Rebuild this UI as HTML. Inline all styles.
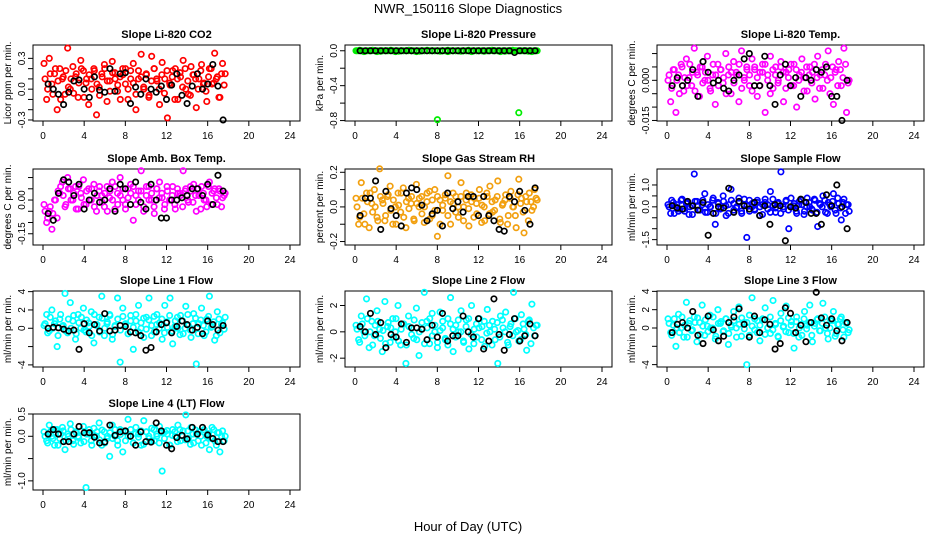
<!DOCTYPE html>
<html><head><meta charset="utf-8"><style>
html,body{margin:0;padding:0;background:#fff}
svg{display:block;font-family:"Liberation Sans",sans-serif}
</style></head><body>
<svg id="chart" width="936" height="540" viewBox="0 0 936 540">
<text x="468" y="13" text-anchor="middle" font-size="13">NWR_150116  Slope Diagnostics</text>
<text x="468" y="531" text-anchor="middle" font-size="13">Hour of Day (UTC)</text>
</svg>
<script>
// x tick labels
const xTicks = [0,4,8,12,16,20,24];
// colored series (spread samples 0.1h..17.7h), core samples (0.2h..17.6h), black samples (0.5h..17.5h)
const co2Values = [0.25,-0.1,0.3,0.05,0.15,-0.2,0.2,0.1,-0.05,0.4,0.0,0.22,0.12,-0.08,0.28,0.18,0.06,-0.15,0.1,0.2,-0.25,0.02,0.15,0.24,-0.12,0.08,0.27,0.16,-0.02,0.12,0.2,0.05,-0.1,0.18,0.25,-0.2,0.1,0.34,0.0,0.14,-0.06,0.32,0.2,0.08,-0.15,0.26,0.1,-0.28,0.04,0.18,0.2,-0.1,0.12,0.28,0.0,-0.05,0.22,0.14,-0.18,0.1,0.24,0.06,-0.12,0.2,0.05,0.35,0.12,-0.08,0.25,0.15];
const co2Core = [0.1,0.0,0.15,-0.05,0.2,0.08,-0.1,0.12,0.18,0.02,0.1,-0.04,0.15,0.06,0.2,-0.08,0.1,0.14,0.0,0.18,0.05,-0.06,0.12,0.2,0.08,-0.02,0.16,0.1,0.04,-0.1,0.14,0.2,0.0,0.1,0.06,-0.05,0.18,0.12,0.02,0.15,-0.08,0.08,0.2,0.1,0.0,0.14,-0.04,0.18,0.06,0.12,-0.1,0.1,0.16,0.02,0.2,0.08,-0.06,0.14,0.1,0.0,0.18,0.05,-0.02,0.12,0.2,0.06,0.1,-0.08,0.15,0.04];
const co2Black = [0.05,0.0,-0.05,-0.15,-0.03,0.08,0.09,0.0,-0.08,0.12,-0.01,-0.03,0.2,-0.02,0.15,0.16,-0.14,0.02,-0.05,0.1,0.0,-0.03,0.03,-0.1,0.04,0.15,-0.06,-0.14,0.03,0.15,0.0,0.05,0.24,0.03,-0.3];
const pressValues = [0,0,0,-0.01,0,0,0,0,-0.01,0,0,0,0,0,0,-0.01,0,0,0,0,0,0,0,-0.01,0,0,0,0,0,0,0,-0.79,0,0,0,-0.01,0,0,0,0,0,0,0,0,-0.01,0,0,0,0,0,0,0,0,0,0,-0.01,0,0,0,0,0,0,-0.71,0,0,0,0,-0.01,0,0];
const pressCore = [0,0.005,0,-0.005,0,0,0.005,0,0,-0.005,0,0,0,0.005,0,0,-0.005,0,0,0,0.005,0,0,0,-0.005,0,0,0.005,0,0,0,0,-0.005,0,0,0.005,0,0,0,0,-0.005,0,0,0.005,0,0,0,0,0,-0.005,0,0,0.005,0,0,0,0,-0.005,0,0,0.005,0,0,0,0,0,-0.005,0,0,0];
const pressBlack = [0,0,0,0,0,0,0,0,0,0,0,0,0,0,0,0,0,0,0,0,0,0,0,0,0,0,0,0,0,0,-0.02,0,0,0,0];
const tempValues = [0.0,-0.008,0.004,-0.012,0.002,0.006,-0.004,0.008,0.001,-0.002,0.012,0.003,-0.006,0.005,0.0,0.009,-0.003,0.002,-0.009,0.006,0.004,-0.001,0.01,0.002,-0.005,0.007,0.003,-0.008,0.011,0.001,0.005,-0.002,0.008,0.004,-0.006,0.003,0.006,-0.012,0.002,0.009,-0.003,0.005,0.0,0.007,-0.008,0.003,0.004,-0.002,0.006,-0.01,0.002,0.008,0.001,-0.004,0.005,0.003,-0.007,0.009,0.002,-0.003,0.006,0.011,0.001,-0.009,0.004,0.007,-0.002,0.012,-0.012,0.0];
const tempCore = [0.002,-0.003,0.004,0.0,-0.005,0.005,0.001,-0.002,0.006,0.003,-0.004,0.002,0.005,-0.001,0.003,0.0,-0.004,0.006,0.002,-0.002,0.004,0.001,-0.005,0.005,0.003,-0.001,0.002,0.006,-0.003,0.0,0.004,0.002,-0.004,0.005,0.001,-0.002,0.003,0.006,0.0,-0.005,0.004,0.002,-0.001,0.005,0.003,-0.003,0.001,0.006,-0.002,0.004,0.0,0.003,-0.004,0.005,0.002,-0.001,0.006,0.001,-0.003,0.004,0.002,0.0,-0.005,0.005,0.003,-0.002,0.004,0.001,0.006,-0.001];
const tempBlack = [-0.002,0.001,-0.002,0.0,0.004,-0.006,0.007,0.003,-0.001,0.0,-0.003,-0.004,0.0,0.002,0.008,0.01,-0.002,-0.002,0.009,-0.002,-0.009,0.002,0.006,-0.002,0.001,-0.006,0.001,0.0,0.004,0.003,0.005,-0.006,-0.006,-0.015,0.0];
const ambValues = [-0.02,-0.1,-0.05,-0.13,0.0,-0.08,0.03,0.08,-0.03,0.1,0.05,0.0,0.06,-0.04,0.03,0.09,-0.02,0.05,0.0,0.07,-0.05,0.04,0.02,-0.03,0.06,0.01,0.08,-0.04,0.03,0.1,0.0,-0.02,0.05,0.07,-0.09,0.02,0.04,0.13,-0.03,0.06,0.0,0.03,-0.06,0.05,0.08,0.01,-0.02,0.04,0.0,0.06,-0.04,0.03,0.02,0.13,0.05,-0.01,0.04,0.07,-0.05,0.02,0.06,0.0,-0.03,0.08,0.03,0.05,-0.02,0.04,0.01,0.03];
const ambCore = [-0.05,-0.08,-0.03,-0.06,0.0,0.04,0.06,0.02,-0.02,0.05,0.0,0.03,-0.04,0.06,0.01,-0.02,0.04,0.0,0.05,-0.03,0.02,0.06,-0.01,0.03,-0.05,0.04,0.0,0.06,-0.02,0.02,0.05,-0.04,0.01,0.03,0.06,-0.02,0.0,0.04,-0.05,0.02,0.06,0.0,-0.03,0.05,0.01,0.03,-0.04,0.06,0.0,0.02,-0.02,0.05,0.03,-0.03,0.04,0.0,0.06,-0.01,0.02,0.05,-0.04,0.03,0.0,0.06,-0.02,0.04,0.01,0.05,-0.03,0.02];
const ambBlack = [-0.06,-0.09,0.03,0.09,0.08,0.02,0.07,-0.04,0.0,0.03,-0.01,0.0,0.05,-0.05,0.07,0.05,-0.02,0.08,-0.01,-0.04,0.07,0.0,-0.08,-0.08,0.0,0.0,0.01,0.02,0.05,0.05,0.02,0.07,-0.02,0.11,0.04];
const rhValues = [0.05,-0.1,0.14,-0.04,0.08,-0.12,0.02,0.1,-0.06,0.22,0.04,-0.08,0.06,0.12,-0.1,0.0,0.08,-0.03,0.11,-0.12,0.05,0.02,-0.07,0.13,0.0,0.06,-0.09,0.03,0.09,-0.05,0.1,-0.17,0.04,-0.02,0.07,0.18,-0.1,0.02,0.06,-0.06,0.14,0.0,0.08,-0.11,0.03,0.05,-0.04,0.1,0.01,-0.08,0.06,0.12,-0.03,0.04,0.15,-0.09,0.02,0.07,-0.05,0.09,0.0,-0.12,0.16,0.05,-0.15,0.03,0.08,-0.02,0.1,0.04];
const rhCore = [0.0,-0.06,0.05,-0.1,0.03,0.08,-0.03,0.0,-0.08,0.06,0.02,-0.05,0.07,-0.02,0.04,-0.1,0.01,0.08,-0.06,0.03,-0.01,0.06,-0.08,0.02,0.05,-0.04,0.0,0.08,-0.07,0.04,-0.02,0.06,-0.1,0.01,0.05,-0.05,0.03,0.08,-0.03,0.0,0.06,-0.08,0.04,-0.01,0.07,-0.06,0.02,0.05,-0.09,0.0,0.08,-0.04,0.03,-0.02,0.06,-0.07,0.01,0.04,-0.1,0.05,0.0,-0.05,0.07,0.02,-0.03,0.06,-0.08,0.03,0.0,0.05];
const rhBlack = [-0.05,0.05,0.05,0.15,-0.13,0.09,-0.01,-0.05,-0.11,0.08,0.11,0.1,0.01,-0.08,-0.04,-0.02,-0.11,0.08,-0.01,0.03,-0.03,0.06,0.06,-0.05,0.06,-0.05,-0.08,-0.13,-0.14,0.06,0.03,0.09,-0.02,-0.1,0.11];
const flowValues = [0.1,-0.3,0.2,0.0,-0.2,0.3,-0.1,0.15,-0.35,0.05,1.5,0.25,-0.15,0.1,0.6,-0.25,0.0,0.3,-0.8,0.2,-0.1,0.5,0.05,-0.3,0.8,0.15,-0.05,0.4,-0.2,0.1,-1.4,0.3,0.0,-0.15,0.2,-0.4,0.1,0.35,-0.1,0.7,0.05,-0.25,0.2,1.6,-0.1,0.3,-1.0,0.0,0.15,-0.3,0.25,0.1,-0.2,0.4,0.0,-0.15,0.3,-0.9,0.1,0.5,-0.25,0.2,0.0,0.6,-0.3,0.15,-0.6,0.35,0.1,-0.2];
const flowCore = [0.0,0.3,-0.3,0.1,-0.1,0.35,-0.2,0.2,0.0,-0.35,0.25,0.05,-0.15,0.3,-0.25,0.1,0.0,0.4,-0.3,0.15,-0.05,0.25,-0.4,0.1,0.3,-0.15,0.0,0.2,-0.3,0.35,0.05,-0.2,0.15,-0.1,0.3,0.0,-0.35,0.2,0.1,-0.25,0.35,-0.05,0.15,-0.3,0.0,0.25,-0.15,0.4,0.05,-0.2,0.1,0.3,-0.35,0.0,0.2,-0.1,0.35,-0.25,0.15,0.0,0.3,-0.3,0.1,0.25,-0.15,0.4,-0.05,0.2,-0.3,0.1];
const flowBlack = [0.05,-0.05,-0.1,0.25,0.05,-0.15,0.2,-1.3,-0.3,0.0,-0.05,0.85,-0.25,0.25,0.05,-0.1,0.2,-0.4,0.05,-0.8,0.1,0.05,-1.55,0.0,-0.05,0.35,0.2,-0.3,-0.3,-0.8,0.55,0.05,1.0,0.0,-1.0];
const line1Values = [0.3,1.5,-0.3,2.0,0.5,-2.0,1.0,0.2,3.8,-0.5,2.8,0.8,-1.2,1.5,0.0,2.2,-0.4,0.6,1.8,-1.6,0.3,1.2,3.5,-0.8,0.5,1.5,-1.2,0.2,3.3,-3.7,2.2,0.4,-0.6,1.4,-2.3,0.8,2.5,0.0,-1.0,1.2,3.3,0.3,-0.4,1.5,0.6,-1.2,2.5,0.1,3.3,-1.7,0.8,0.0,1.4,-0.6,2.4,0.3,-1.0,1.6,-3.9,0.5,2.2,-0.8,1.0,3.5,0.2,-1.3,1.8,-0.5,0.6,1.2];
const line1Core = [0.5,-0.5,1.2,0.0,0.8,-0.8,1.5,0.3,-0.3,1.0,0.0,1.4,-0.6,0.6,1.2,-0.2,0.9,0.2,-0.8,1.5,0.4,-0.4,1.1,0.0,0.7,1.4,-0.7,0.3,1.0,-0.2,1.3,0.5,-0.6,0.8,0.1,1.5,-0.4,0.6,1.1,-0.1,0.9,-0.8,1.3,0.4,0.0,1.0,-0.5,0.7,1.4,-0.3,0.2,1.2,-0.7,0.8,0.0,1.5,-0.2,0.5,1.1,-0.6,0.9,0.3,-0.4,1.3,0.1,0.7,-0.8,1.0,0.4,-0.1];
const line1Black = [0.0,0.1,0.05,-0.1,-0.3,-0.2,-2.3,0.5,-0.5,0.4,-0.3,1.6,-0.3,-0.2,0.3,0.2,-0.4,-0.5,-0.8,-2.4,-2.1,-0.4,0.4,0.6,-0.5,0.2,0.8,0.4,-0.2,0.1,-0.6,0.8,0.4,-0.2,0.3];
const line2Values = [0.5,-0.6,1.2,0.0,2.5,-1.2,0.8,-0.3,1.6,0.2,-1.5,2.3,0.4,-0.8,1.0,0.0,2.0,-1.0,0.6,-2.4,1.2,0.3,-0.5,1.8,-1.8,0.2,3.0,0.8,-0.9,1.4,0.0,-1.2,1.5,0.3,-0.6,1.0,2.6,-1.5,0.5,0.0,1.6,-0.8,0.9,-1.3,2.0,0.2,-0.4,1.0,0.4,-1.1,1.7,0.0,0.8,-0.6,-2.4,1.2,0.3,1.5,-1.0,0.6,3.0,0.0,-0.7,1.3,0.2,-1.4,0.9,2.1,-0.3,0.5];
const line2Core = [0.2,-0.8,0.6,-0.3,1.0,0.0,-1.0,0.5,0.8,-0.5,0.1,-0.9,0.7,0.3,-0.4,1.0,-0.7,0.2,0.6,-1.0,0.4,-0.2,0.9,-0.6,0.0,0.7,-0.9,0.3,1.0,-0.3,0.5,-0.8,0.1,0.8,-0.5,-1.0,0.6,0.2,-0.4,0.9,0.0,-0.7,0.4,1.0,-0.2,-0.9,0.6,0.3,-0.6,0.8,-0.1,0.5,-1.0,0.2,0.7,-0.4,0.9,0.0,-0.8,0.4,-0.3,1.0,0.1,-0.6,0.6,-0.2,0.8,-0.9,0.3,0.5];
const line2Black = [0.4,0.0,1.4,-0.2,0.7,-1.2,-0.2,-0.4,0.6,-0.8,0.3,0.3,0.2,-0.6,0.5,-0.4,1.4,-0.7,-0.3,-0.3,1.2,0.0,-0.4,1.0,-1.3,-0.7,2.5,-0.2,-1.4,-0.2,1.0,-0.7,-0.3,0.6,-0.3];
const line3Values = [1.0,-0.5,0.3,-2.0,1.5,0.0,-1.0,2.8,0.5,-0.3,1.2,-1.5,0.6,2.5,-0.8,0.2,1.4,0.0,-1.2,2.0,0.5,-0.4,1.0,-1.8,0.3,1.8,0.0,2.3,-0.9,0.6,-4.0,1.4,3.3,-0.2,0.8,-1.4,1.0,2.2,0.0,-0.6,3.0,0.4,-1.0,1.6,0.2,2.4,-0.5,0.7,-2.2,1.2,0.0,-0.8,1.8,0.3,2.5,-1.5,0.5,1.0,-0.3,2.7,0.0,-1.2,0.8,1.8,-0.6,0.4,1.2,-1.0,0.5,-0.2];
const line3Core = [0.5,-0.8,1.0,0.0,-0.5,1.2,0.3,-1.0,0.8,-0.2,0.6,1.1,-0.7,0.2,0.9,-0.4,0.0,1.2,-0.9,0.5,0.7,-0.3,1.0,-0.6,0.1,0.8,-1.0,0.4,1.1,-0.1,0.6,-0.8,0.2,1.0,-0.5,0.3,0.9,-0.7,0.0,1.2,-0.2,0.5,-0.9,0.8,0.1,-0.4,1.1,0.3,-0.6,0.7,-1.0,0.4,1.0,-0.1,0.6,-0.8,0.2,0.9,-0.3,0.5,1.2,-0.6,0.0,0.8,-0.9,0.4,1.0,-0.2,0.6,-0.5];
const line3Black = [-0.5,0.4,0.6,0.0,1.8,-0.8,-1.7,1.3,-0.2,-1.4,-0.9,0.6,1.2,2.1,0.4,-1.0,1.3,-0.5,0.9,0.4,-2.3,-1.7,2.2,1.6,-0.5,0.3,-1.5,0.6,3.9,1.1,0.3,1.0,-0.3,-1.4,0.6];
const line4Values = [0.1,-0.1,0.25,0.0,-0.2,0.15,-0.05,0.2,-0.3,0.05,0.28,-0.1,0.1,0.0,-0.15,0.22,-1.15,0.05,-0.1,0.18,0.0,0.3,-0.2,0.1,-0.05,-0.45,0.25,0.0,-0.1,0.15,-0.35,0.1,0.38,0.0,-0.15,0.2,0.05,-0.2,0.35,0.1,-0.05,0.18,-0.1,0.0,0.22,-0.78,0.1,0.05,-0.2,0.15,0.0,0.25,-0.1,0.12,0.48,-0.05,0.2,-0.15,0.05,0.1,-0.2,0.15,0.0,-0.3,0.2,-0.1,0.08,-0.35,0.12,0.0];
const line4Core = [0.0,-0.15,0.1,-0.05,0.15,-0.2,0.05,0.12,-0.1,0.0,0.15,-0.18,0.08,-0.03,0.12,-0.12,0.05,0.15,-0.2,0.02,0.1,-0.08,0.14,-0.15,0.0,0.08,-0.05,0.15,-0.2,0.04,0.12,-0.1,0.0,0.15,-0.15,0.06,-0.02,0.12,-0.18,0.1,0.0,-0.1,0.15,0.05,-0.15,0.08,-0.05,0.13,-0.2,0.02,0.1,-0.12,0.15,0.0,-0.08,0.12,-0.18,0.05,0.14,-0.1,0.0,0.1,-0.15,0.06,-0.05,0.15,-0.2,0.08,0.0,-0.1];
const line4Black = [0.05,0.15,0.05,-0.12,-0.12,0.05,0.22,0.08,0.08,-0.02,-0.15,-0.13,0.25,0.02,0.1,0.12,0.0,-0.2,0.1,-0.12,-0.13,0.3,0.12,-0.2,-0.28,-0.03,0.02,-0.06,0.2,0.05,0.2,0.03,-0.05,-0.12,-0.12];
// y tick values and labels per panel
const co2Ticks=[-0.3,-0.2,-0.1,0,0.1,0.2,0.3], co2Labels=["-0.3","","","0.0","","","0.3"];
const pressTicks=[-0.8,-0.6,-0.4,-0.2,0], pressLabels=["-0.8","","-0.4","","0.0"];
const tempTicks=[-0.015,-0.01,-0.005,0,0.005,0.01], tempLabels=["-0.015","","","0.000","",""];
const ambTicks=[-0.15,-0.1,-0.05,0,0.05,0.1], ambLabels=["-0.15","","","0.00","",""];
const rhTicks=[-0.2,-0.1,0,0.1,0.2], rhLabels=["-0.2","","0.0","","0.2"];
const flowTicks=[-1.5,-1,-0.5,0,0.5,1], flowLabels=["-1.5","","","0.0","","1.0"];
const l1Ticks=[-4,-2,0,2,4], l1Labels=["-4","","0","2","4"];
const l2Ticks=[-2,0,2], l2Labels=["-2","0","2"];
const l3Ticks=[-4,-2,0,2,4], l3Labels=["-4","","0","2","4"];
const l4Ticks=[-1,-0.5,0,0.5], l4Labels=["-1.0","","0.0","0.5"];

const NS="http://www.w3.org/2000/svg";
const svg=document.getElementById('chart');
const colLeft=[33,345,657], rowTop=[45,169,291,414], BW=267, BH=76;
function mk(tag,attrs,parent){const e=document.createElementNS(NS,tag);for(const k in attrs)e.setAttribute(k,attrs[k]);parent.appendChild(e);return e;}

function panel(key,col,row,title,ylab,ymin,ymax,ticks,labels,color,vals,core,blk){
  const L=colLeft[col],T=rowTop[row];
  const g=mk('g',{},svg);
  
  
  const xs=h=>L+10+h*(247/24);
  const ys=v=>T+BH-(v-ymin)/(ymax-ymin)*BH;
  const box=mk('rect',{x:L,y:T,width:BW,height:BH,fill:'none',stroke:'#000','stroke-width':1},g);
  
  
  const t=mk('text',{x:L+BW/2,y:T-7,'text-anchor':'middle','font-size':11,'font-weight':'bold'},g);
  t.textContent=title;
  
  
  const yl=mk('text',{x:0,y:0,'text-anchor':'middle','font-size':10,transform:`translate(${L-22},${T+BH/2}) rotate(-90)`},g);
  yl.textContent=ylab;
  
  
  xTicks.forEach(h=>{
    mk('line',{x1:xs(h),x2:xs(h),y1:T+BH,y2:T+BH+5,stroke:'#000'},g);
    const tx=mk('text',{x:xs(h),y:T+BH+18,'text-anchor':'middle','font-size':10},g);
    tx.textContent=h;
    
    
  });
  ticks.forEach((v,i)=>{
    mk('line',{x1:L-5,x2:L,y1:ys(v),y2:ys(v),stroke:'#000'},g);
    if(labels[i]){
      const ty=mk('text',{x:0,y:0,'text-anchor':'middle','font-size':10,transform:`translate(${L-8},${ys(v)}) rotate(-90)`},g);
      ty.textContent=labels[i];
      
      
    }
  });
  const n=vals.length;
  vals.forEach((v,i)=>{
    const h=0.1+i*17.6/(n-1);
    const c=mk('circle',{cx:xs(h),cy:ys(v),r:2.7,fill:'none',stroke:color,'stroke-width':1.7},g);
    
    
  });
  const k=core.length;
  core.forEach((v,i)=>{
    const h=0.2+i*17.4/(k-1);
    const c=mk('circle',{cx:xs(h),cy:ys(v),r:2.7,fill:'none',stroke:color,'stroke-width':1.7},g);
    
    
  });
  const m=blk.length;
  blk.forEach((v,i)=>{
    const h=0.5+i*17/(m-1);
    const c=mk('circle',{cx:xs(h),cy:ys(v),r:2.7,fill:'none',stroke:'#000','stroke-width':1.7},g);
    
    
  });
}
panel('co2',0,0,'Slope Li-820 CO2','Licor ppm per min.',-0.31,0.43,co2Ticks,co2Labels,'#ff0000',co2Values,co2Core,co2Black);
panel('pressure',1,0,'Slope Li-820 Pressure','kPa per min.',-0.805,0.066,pressTicks,pressLabels,'#00ee00',pressValues,pressCore,pressBlack);
panel('temp',2,0,'Slope Li-820 Temp.','degrees C per min.',-0.0152,0.0132,tempTicks,tempLabels,'#ff00ff',tempValues,tempCore,tempBlack);
panel('amb-temp',0,1,'Slope Amb. Box Temp.','degrees C per min.',-0.2,0.138,ambTicks,ambLabels,'#ff00ff',ambValues,ambCore,ambBlack);
panel('rh',1,1,'Slope Gas Stream RH','percent per min.',-0.22,0.219,rhTicks,rhLabels,'#f2a010',rhValues,rhCore,rhBlack);
panel('sample-flow',2,1,'Slope Sample Flow','ml/min per min.',-1.745,1.73,flowTicks,flowLabels,'#0000ff',flowValues,flowCore,flowBlack);
panel('line1',0,2,'Slope Line 1 Flow','ml/min per min.',-4.23,4.07,l1Ticks,l1Labels,'#00ffff',line1Values,line1Core,line1Black);
panel('line2',1,2,'Slope Line 2 Flow','ml/min per min.',-2.67,3.1,l2Ticks,l2Labels,'#00ffff',line2Values,line2Core,line2Black);
panel('line3',2,2,'Slope Line 3 Flow','ml/min per min.',-4.26,4.04,l3Ticks,l3Labels,'#00ffff',line3Values,line3Core,line3Black);
panel('line4',0,3,'Slope Line 4 (LT) Flow','ml/min per min.',-1.205,0.5,l4Ticks,l4Labels,'#00ffff',line4Values,line4Core,line4Black);
</script>
</body></html>
